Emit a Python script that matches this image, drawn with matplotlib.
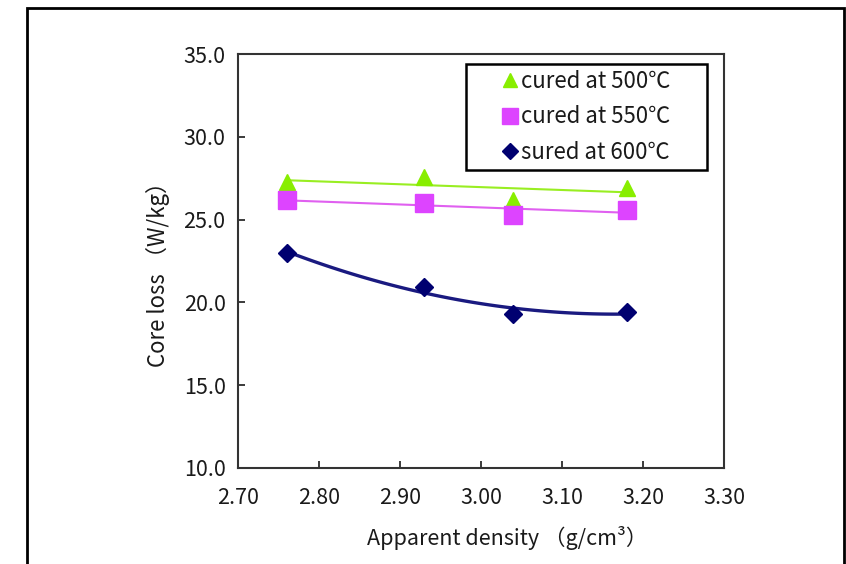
import numpy as np
import matplotlib
matplotlib.use("Agg")
import matplotlib.pyplot as plt
from matplotlib.patches import Rectangle

plt.rcParams['font.family'] = ['Noto Sans CJK JP', 'DejaVu Sans']

density = [2.76, 2.93, 3.04, 3.18]
loss_500 = [27.3, 27.6, 26.2, 26.9]
loss_550 = [26.2, 26.0, 25.3, 25.6]
loss_600 = [23.0, 20.9, 19.3, 19.4]

labels = ["cured at 500℃", "cured at 550℃", "sured at 600℃"]
xticks = [2.70, 2.80, 2.90, 3.00, 3.10, 3.20, 3.30]
yticks = [10.0, 15.0, 20.0, 25.0, 30.0, 35.0]

fig = plt.figure(figsize=(8.46, 5.64), dpi=100)
ax = fig.add_axes([238/846, 1-468/564, (724-238)/846, (468-54)/564])

# outer frame around the figure (bottom edge cut off)
fig.patches.append(Rectangle((27/846, -0.05), (844-27)/846, 1.05-8/564,
                             transform=fig.transFigure, fill=False,
                             edgecolor="black", lw=2))

x = np.asarray(density)
xs = np.linspace(x.min(), x.max(), 100)

# trend lines (linear for 500/550, 2nd order poly for 600)
p500 = np.polyfit(x, loss_500, 1)
p550 = np.polyfit(x, loss_550, 1)
p600 = np.polyfit(x, loss_600, 2)
ax.plot(xs, np.polyval(p500, xs), color="#99ee22", lw=1.5, zorder=2)
ax.plot(xs, np.polyval(p550, xs), color="#e060f0", lw=1.5, zorder=2)
ax.plot(xs, np.polyval(p600, xs), color="#1a1a80", lw=2.4, zorder=2)

ax.plot(density, loss_500, ls="none", marker="^", ms=12, color="#88ee00",
        mec="#88ee00", label=labels[0], zorder=3)
ax.plot(density, loss_550, ls="none", marker="s", ms=13.5, color="#dd44ff",
        mec="#dd44ff", label=labels[1], zorder=3)
ax.plot(density, loss_600, ls="none", marker="D", ms=9, color="#000070",
        mec="#000070", label=labels[2], zorder=4)

ax.set_xlim(2.70, 3.30)
ax.set_ylim(10.0, 35.0)
ax.set_xticks(xticks)
ax.set_yticks(yticks)
ax.set_xticklabels([f"{v:.2f}" for v in xticks])
ax.set_yticklabels([f"{v:.1f}" for v in yticks])
ax.tick_params(direction="in", length=5, width=1.2, labelsize=15.5,
               colors="#1a1a1a")
ax.tick_params(axis="x", pad=14)
ax.tick_params(axis="y", pad=9)
for sp in ax.spines.values():
    sp.set_color("#333333")
    sp.set_linewidth(1.5)

ax.set_xlabel("Apparent density （g/cm³）", fontsize=15.5, color="#1a1a1a")
ax.set_ylabel("Core loss （W/kg）", fontsize=16, color="#1a1a1a")
ax.xaxis.set_label_coords(0.553, -0.14)
ax.yaxis.set_label_coords(-0.14, 0.48)

# legend box drawn separately, entries centred inside it
ax.add_patch(Rectangle((0.469, 0.720), 0.496, 0.256, transform=ax.transAxes,
                       fill=True, facecolor="white", edgecolor="black",
                       lw=1.8, zorder=5))
leg = ax.legend(loc="center", bbox_to_anchor=(0.717, 0.848),
                fontsize=16, frameon=False,
                handlelength=0.7, handletextpad=0.15, labelspacing=0.55,
                borderpad=0.2, markerscale=0.85)
leg.set_zorder(6)
for t in leg.get_texts():
    t.set_color("#1a1a1a")

fig.savefig("out.png", dpi=100)
